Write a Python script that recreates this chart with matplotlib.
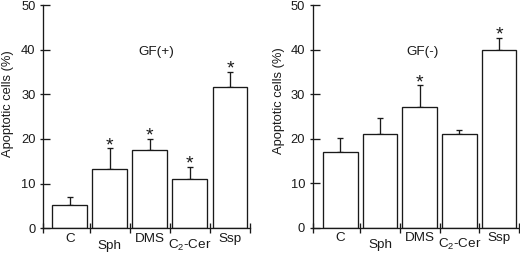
import matplotlib
matplotlib.use("Agg")
import matplotlib.pyplot as plt
from matplotlib.ticker import FixedLocator

plt.rcParams['font.family'] = ['Liberation Sans', 'DejaVu Sans']
plt.rcParams['mathtext.fontset'] = 'custom'
plt.rcParams['mathtext.rm'] = 'Liberation Sans'
plt.rcParams['mathtext.it'] = 'Liberation Sans:italic'

categories = ['C', 'Sph', 'DMS', r'C$_\mathrm{2}$-Cer', 'Ssp']
label_row = [0, 1, 0, 1, 0]  # staggered tick-label rows

gf_plus_vals = [5.3, 13.2, 17.6, 11.1, 31.6]
gf_plus_err = [1.8, 4.7, 2.4, 2.7, 3.5]
gf_plus_sig = [False, True, True, True, True]

gf_minus_vals = [17.0, 21.0, 27.2, 21.0, 40.0]
gf_minus_err = [3.1, 3.7, 4.8, 1.0, 2.7]
gf_minus_sig = [False, False, True, False, True]

yticks = [0, 10, 20, 30, 40, 50]
ylabel = 'Apoptotic cells (%)'
titles = ['GF(+)', 'GF(-)']

INK = '#1a1a1a'
FS = 9.3

fig = plt.figure(figsize=(5.2, 2.54), dpi=100)
axL = fig.add_axes([43.3/520, 25.7/254, 206.7/520, 223.3/254])
axR = fig.add_axes([312.7/520, 26.3/254, 207.3/520, 222.7/254])

panels = [
    (axL, gf_plus_vals, gf_plus_err, gf_plus_sig, titles[0], (-0.66, 4.5), (0.545, 0.79), (8.0, 103.5)),
    (axR, gf_minus_vals, gf_minus_err, gf_minus_sig, titles[1], (-0.70, 4.53), (0.532, 0.79), (279.0, 100.5)),
]

for ax, vals, errs, sig, title, xl, tpos, ylpos in panels:
    x = list(range(len(categories)))
    ax.bar(x, vals, width=0.87, color='white', edgecolor=INK, linewidth=0.95, zorder=2)
    ax.errorbar(x, vals, yerr=[[0]*len(vals), errs], fmt='none', ecolor=INK,
                elinewidth=0.95, capsize=2.0, capthick=0.95, zorder=1)
    for i, (v, e, s) in enumerate(zip(vals, errs, sig)):
        if s:
            ax.annotate('*', xy=(i, v + e), xytext=(0, -1.3), textcoords='offset points',
                        ha='center', va='baseline', fontsize=14, color=INK)
    ax.set_xlim(*xl)
    ax.set_ylim(0, 50)
    for sp in ['top', 'right']:
        ax.spines[sp].set_visible(False)
    for sp in ['left', 'bottom']:
        ax.spines[sp].set_color(INK)
        ax.spines[sp].set_linewidth(0.95)
    # y ticks: crossing the spine (more inward than outward)
    ax.set_yticks(yticks)
    ax.set_yticklabels([str(t) for t in yticks], fontsize=FS)
    ax.yaxis.set_minor_locator(FixedLocator(yticks))
    ax.yaxis.remove_overlapping_locs = False
    ax.tick_params(axis='y', which='major', direction='in', length=4.8, width=0.95,
                   color=INK, pad=5.5, labelcolor=INK)
    ax.tick_params(axis='y', which='minor', direction='out', length=2.4, width=0.95, color=INK)
    # x ticks: boundaries between categories
    ax.set_xticks(x)
    ax.set_xticklabels([])
    ax.tick_params(axis='x', which='major', length=0)
    bounds = [xl[0]] + [i + 0.5 for i in range(len(categories))]
    ax.xaxis.set_minor_locator(FixedLocator(bounds))
    ax.tick_params(axis='x', which='minor', direction='inout', length=7.0, width=0.95, color=INK)
    for i, (lab, row) in enumerate(zip(categories, label_row)):
        ax.annotate(lab, xy=(i, 0), xycoords=('data', 'axes fraction'),
                    xytext=(0, -9.9 if row == 0 else -14.8), textcoords='offset points',
                    ha='center', va='baseline', fontsize=FS + 0.4, color=INK)
    ax.text(tpos[0], tpos[1], title, transform=ax.transAxes, ha='center', va='center',
            fontsize=FS + 0.4, color=INK)
    fig.text(ylpos[0] / 520, 1 - ylpos[1] / 254, ylabel, rotation=90, ha='center',
             va='center', fontsize=FS, color=INK)

fig.savefig('out.png', dpi=100)
